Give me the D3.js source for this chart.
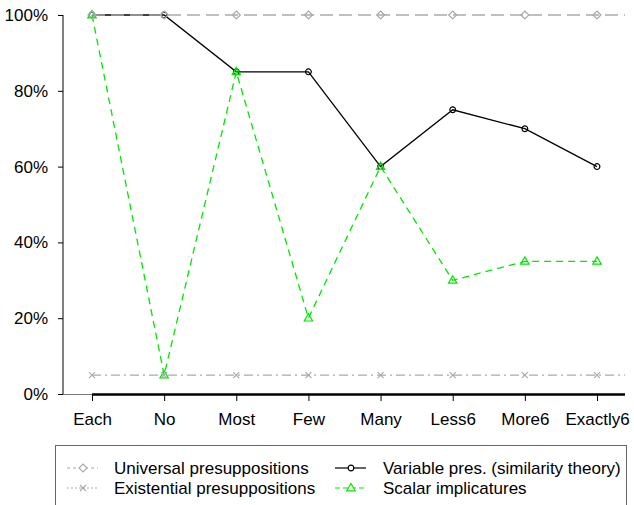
<!DOCTYPE html>
<html lang="en">
<head>
  <meta charset="UTF-8">
  <title>Presuppositions chart</title>
  <script src="https://d3js.org/d3.v7.min.js"></script>
  <style>
    body { margin: 0; background: #fff; }
    svg { display: block; font-family: "Liberation Sans", Arial, sans-serif; }
  </style>
</head>
<body>
  <div id="chart"></div>
  <script>
    const categories = ['Each', 'No', 'Most', 'Few', 'Many', 'Less6', 'More6', 'Exactly6'];
    const universal = [100, 100, 100, 100, 100, 100, 100, 100];
    const existential = [5, 5, 5, 5, 5, 5, 5, 5];
    const variablePres = [100, 100, 85, 85, 60, 75, 70, 60];
    const scalar = [100, 5, 85, 20, 60, 30, 35, 35];
    const yTicks = [0, 20, 40, 60, 80, 100];

    const W = 634, H = 505;
    const svg = d3.select('#chart').append('svg').attr('width', W).attr('height', H);

    const x = d3.scalePoint().domain(categories).range([92, 597]);
    const y = d3.scaleLinear().domain([0, 100]).range([394, 15]);
    const xEnd = 625;
    const FONT = 'Liberation Sans, Arial, sans-serif';

    // y axis
    const ya = svg.append('g').attr('transform', 'translate(63,0)')
      .call(d3.axisLeft(y).tickValues(yTicks).tickFormat(d => d + '%').tickSize(5).tickPadding(10));
    ya.select('.domain').attr('stroke', '#000').attr('d', 'M0,15V394');
    ya.selectAll('text').attr('font-size', 17).attr('fill', '#000').attr('font-family', FONT);
    svg.append('line').attr('x1', 63).attr('x2', 92).attr('y1', 394.5).attr('y2', 394.5)
      .attr('stroke', '#777').attr('stroke-width', 1);

    // x axis
    const xa = svg.append('g').attr('transform', 'translate(0,394)')
      .call(d3.axisBottom(x).tickSize(7).tickPadding(12));
    xa.select('.domain').attr('d', `M92,0.5H${xEnd}`).attr('stroke', '#000').attr('stroke-width', 2.5);
    xa.selectAll('text').attr('font-size', 17).attr('fill', '#000').attr('font-family', FONT);

    function drawSeries(vals, color, dash, shape, extend) {
      const pts = vals.map((v, i) => [x(categories[i]), y(v)]);
      if (extend) pts.push([xEnd, y(vals[vals.length - 1])]);
      svg.append('path').attr('d', d3.line()(pts)).attr('fill', 'none')
        .attr('stroke', color).attr('stroke-width', 1.3).attr('stroke-dasharray', dash);
      const g = svg.append('g');
      vals.forEach((v, i) => {
        g.append('path')
          .attr('transform', `translate(${x(categories[i])},${y(v)})`)
          .attr('d', shape)
          .attr('fill', 'none').attr('stroke', color).attr('stroke-width', 1.2);
      });
    }

    const circle = d3.symbol().type(d3.symbolCircle).size(26)();
    const diamond = 'M0,-4L4,0L0,4L-4,0Z';
    const tri = 'M0,-4.5L4.2,2.8L-4.2,2.8Z';
    const cross = 'M-3,-3L3,3M-3,3L3,-3';

    drawSeries(variablePres, '#000', null, circle, false);
    drawSeries(scalar, '#00e600', '7,5', tri, false);
    drawSeries(universal, '#aaa', '13,6', diamond, true);
    drawSeries(existential, '#aaa', '9,4,2,4', cross, true);

    // legend
    const lg = svg.append('g');
    lg.append('rect').attr('x', 55.5).attr('y', 445.5).attr('width', 571).attr('height', 70)
      .attr('fill', '#fff').attr('stroke', '#666').attr('stroke-width', 1);
    const items = [
      { label: 'Universal presuppositions', color: '#aaa', dash: '3,3', shape: diamond, lx: 67, tx: 114, ly: 468 },
      { label: 'Existential presuppositions', color: '#aaa', dash: '2,2', shape: cross, lx: 67, tx: 114, ly: 488 },
      { label: 'Variable pres. (similarity theory)', color: '#000', dash: null, shape: circle, lx: 335, tx: 383, ly: 468 },
      { label: 'Scalar implicatures', color: '#00e600', dash: '5,3', shape: tri, lx: 335, tx: 383, ly: 488 }
    ];
    items.forEach(it => {
      lg.append('line').attr('x1', it.lx).attr('x2', it.lx + 31).attr('y1', it.ly).attr('y2', it.ly)
        .attr('stroke', it.color).attr('stroke-width', 1.2).attr('stroke-dasharray', it.dash);
      lg.append('path').attr('transform', `translate(${it.lx + 16},${it.ly})`).attr('d', it.shape)
        .attr('fill', '#fff').attr('stroke', it.color).attr('stroke-width', 1.2);
      lg.append('text').attr('x', it.tx).attr('y', it.ly + 6).attr('font-size', 17)
        .attr('fill', '#000').text(it.label);
    });
  </script>
</body>
</html>
